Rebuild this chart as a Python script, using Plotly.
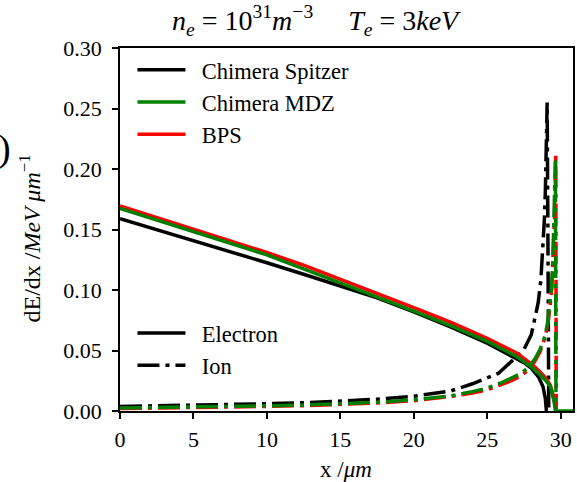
import plotly.graph_objects as go

# ---------------- data ----------------
# Electron stopping (solid lines)
x_e_spitzer = [0, 2.5, 5, 7.5, 10, 12.5, 15, 17.5, 20, 22.5, 25, 26.65, 27.5, 28.0, 28.5, 28.8, 28.95, 29.03]
y_e_spitzer = [0.159, 0.150, 0.141, 0.132, 0.1225, 0.1130, 0.1035, 0.0935, 0.0820, 0.0695, 0.0560, 0.0455, 0.0400, 0.0355, 0.0280, 0.0200, 0.0110, 0.0]

x_e_mdz = [0, 2.5, 5, 7.5, 10, 12.5, 15, 17.5, 20, 22.5, 25, 27, 28, 28.5, 29.0, 29.3, 29.45, 29.55, 29.62, 29.65, 30.0, 31.0]
y_e_mdz = [0.1675, 0.158, 0.1485, 0.139, 0.129, 0.1175, 0.106, 0.0945, 0.0826, 0.0705, 0.0575, 0.045, 0.0365, 0.031, 0.025, 0.020, 0.014, 0.008, 0.002, 0.0, 0.0, 0.0]

x_e_bps = [0, 2.5, 5, 7.5, 10, 12.5, 15, 17.5, 20, 22.5, 25, 27, 28, 28.5, 29.0, 29.3, 29.5, 29.62, 29.7]
y_e_bps = [0.1695, 0.160, 0.1505, 0.141, 0.131, 0.1205, 0.109, 0.0975, 0.0855, 0.0735, 0.0600, 0.048, 0.039, 0.0335, 0.027, 0.021, 0.013, 0.005, 0.0]

# Ion stopping (dash-dot lines)
x_i_spitzer = [0, 2.5, 5, 7.5, 10, 12.5, 15, 17.5, 20, 22.5, 24, 25, 25.75, 26.65, 27.5, 28.0, 28.24, 28.47, 28.65, 28.8, 28.9, 28.96, 29.03, 29.08, 29.13, 29.19]
y_i_spitzer = [0.0038, 0.0042, 0.0047, 0.0053, 0.0060, 0.0068, 0.0080, 0.0097, 0.0122, 0.0165, 0.0225, 0.0270, 0.0310, 0.0410, 0.0510, 0.0630, 0.0780, 0.0895, 0.1080, 0.1335, 0.1600, 0.1830, 0.2220, 0.2550, 0.1500, 0.0]

x_i_mdz = [0, 2.5, 5, 7.5, 10, 12.5, 15, 17.5, 20, 22.5, 24, 25, 26, 26.65, 27.3, 27.8, 28.24, 28.6, 28.92, 29.1, 29.26, 29.37, 29.47, 29.55, 29.6, 29.64, 29.66, 29.68]
y_i_mdz = [0.0025, 0.0028, 0.0032, 0.0037, 0.0043, 0.0049, 0.0058, 0.0072, 0.0092, 0.0125, 0.0160, 0.0190, 0.0235, 0.0270, 0.0310, 0.0360, 0.0430, 0.0510, 0.0616, 0.0720, 0.0865, 0.1000, 0.1250, 0.1550, 0.1800, 0.2070, 0.1200, 0.0]

x_i_bps = [0, 2.5, 5, 7.5, 10, 12.5, 15, 17.5, 20, 22.5, 23.9, 25, 26.65, 27.3, 27.8, 28.24, 28.6, 28.92, 29.1, 29.26, 29.4, 29.5, 29.58, 29.63, 29.67, 29.7]
y_i_bps = [0.0020, 0.0023, 0.0027, 0.0032, 0.0038, 0.0044, 0.0052, 0.0066, 0.0085, 0.0120, 0.0147, 0.0175, 0.0250, 0.0290, 0.0340, 0.0410, 0.0490, 0.0600, 0.0700, 0.0840, 0.1020, 0.1300, 0.1600, 0.1900, 0.2120, 0.0]

series_names = ["Chimera Spitzer", "Chimera MDZ", "BPS"]
type_names = ["Electron", "Ion"]
x_ticks = [0, 5, 10, 15, 20, 25, 30]
y_ticks = [0.00, 0.05, 0.10, 0.15, 0.20, 0.25, 0.30]

# ---------------- styling ----------------
FONT = "Liberation Serif, Times New Roman, serif"
BLACK, GREEN, RED = "#000000", "#007f00", "#ff0000"
LW = 3.5
DASHDOT = "22px,6px,4px,6px"
PAD = "\u00a0\u00a0"

fig = go.Figure()

def add(x, y, color, dash):
    fig.add_trace(go.Scatter(x=x, y=y, mode="lines", showlegend=False,
                             line=dict(color=color, width=LW, dash=dash)))

add(x_e_spitzer, y_e_spitzer, BLACK, "solid")
add(x_i_spitzer, y_i_spitzer, BLACK, DASHDOT)
add(x_e_bps, y_e_bps, RED, "solid")
add(x_i_bps, y_i_bps, RED, DASHDOT)
add(x_e_mdz, y_e_mdz, GREEN, "solid")
add(x_i_mdz, y_i_mdz, GREEN, DASHDOT)

# Legend 1: models
for name, col in zip(series_names, [BLACK, GREEN, RED]):
    fig.add_trace(go.Scatter(x=[None], y=[None], mode="lines", name=PAD + name,
                             line=dict(color=col, width=LW), legend="legend"))
# Legend 2: electron / ion
for name, dash in zip(type_names, ["solid", DASHDOT]):
    fig.add_trace(go.Scatter(x=[None], y=[None], mode="lines", name=PAD + name,
                             line=dict(color=BLACK, width=LW, dash=dash), legend="legend2"))

axis_common = dict(showline=True, linecolor="black", linewidth=1.5, mirror=True,
                   ticks="outside", ticklen=6, tickwidth=1.5, tickcolor="black",
                   showgrid=False, zeroline=False,
                   tickfont=dict(family=FONT, size=22, color="black"))

fig.update_xaxes(range=[0, 30.84], tickvals=x_ticks, ticktext=[str(v) for v in x_ticks],
                 ticklabelstandoff=2, **axis_common)
fig.update_yaxes(range=[0, 0.30], tickvals=y_ticks, ticktext=[f"{v:.2f}" for v in y_ticks],
                 ticklabelstandoff=6, **axis_common)

legend_common = dict(bgcolor="rgba(0,0,0,0)", borderwidth=0, itemwidth=48,
                     font=dict(family=FONT, size=22.5, color="black"),
                     xanchor="left", yanchor="top", tracegroupgap=0)

fig.update_layout(
    width=577, height=482,
    margin=dict(l=120, r=2, t=48, b=71),
    plot_bgcolor="white", paper_bgcolor="white",
    legend=dict(x=0.0275, y=0.998, **legend_common),
    legend2=dict(x=0.0275, y=0.273, **legend_common),
    annotations=[
        dict(text="<i>n</i><sub><i>e</i></sub> = 10<sup>31</sup><i>m</i><sup>−3</sup>     <i>T</i><sub><i>e</i></sub> = 3<i>keV</i>",
             xref="paper", yref="paper", x=0.433, y=1.075, xanchor="center", yanchor="middle",
             showarrow=False, font=dict(family=FONT, size=28, color="black")),
        dict(text="x /<i>μm</i>", xref="paper", yref="paper", x=0.499, y=-0.1625,
             xanchor="center", yanchor="middle", showarrow=False,
             font=dict(family=FONT, size=23, color="black")),
        dict(text="dE/dx /<i>MeV μm</i><sup>−1</sup>", xref="paper", yref="paper",
             x=-0.198, y=0.476, xanchor="center", yanchor="middle", textangle=-90,
             showarrow=False, font=dict(family=FONT, size=24, color="black")),
        dict(text=")", xref="paper", yref="paper", x=-0.255, y=0.7245,
             xanchor="center", yanchor="middle", showarrow=False,
             font=dict(family=FONT, size=38, color="black")),
    ],
)

fig.write_html("out.html")
